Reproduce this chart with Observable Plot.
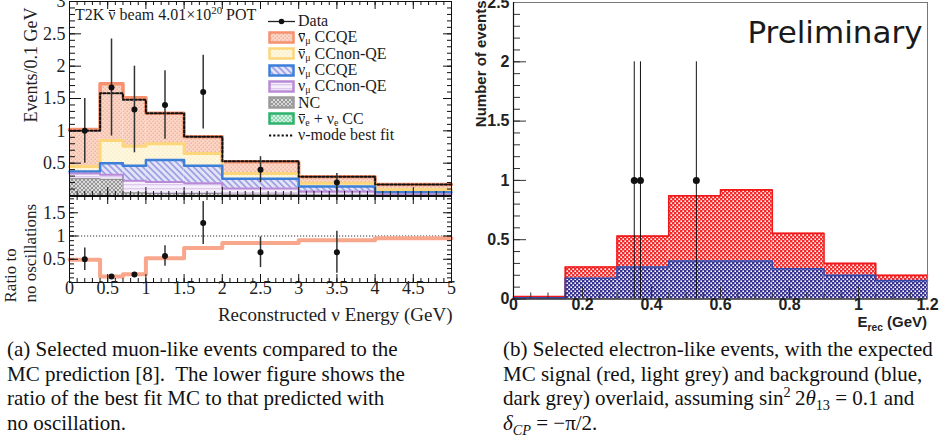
<!DOCTYPE html>
<html><head><meta charset="utf-8">
<script src="https://cdn.jsdelivr.net/npm/d3@7"></script>
<script src="https://cdn.jsdelivr.net/npm/@observablehq/plot@0.6"></script>
<style>
html,body{margin:0;padding:0;background:#fff;}
#wrap{position:relative;width:940px;height:448px;overflow:hidden;background:#fff;}
.serif{font-family:"Liberation Serif","Times New Roman",serif;color:#1b1b1b;}
.cap{position:absolute;font-family:"Liberation Serif","Times New Roman",serif;font-size:21px;line-height:24.6px;color:#111;white-space:nowrap;}
sup,sub{font-size:0.68em;line-height:0;}
.lg{position:absolute;left:268px;top:13px;font-size:16px;}
.lg sub{font-size:0.62em;vertical-align:-0.2em;}
.row{height:16.3px;display:flex;align-items:center;white-space:nowrap;line-height:16px;}
.row svg{flex:none;margin-right:3px;}
.ob{position:relative;display:inline-block;line-height:1;}
.ob::after{content:"";position:absolute;left:0.06em;right:0.04em;top:0.2em;border-top:1px solid currentColor;}
#erec{position:absolute;right:13px;top:313px;font-family:"Liberation Sans",Arial,sans-serif;font-weight:bold;font-size:15px;color:#222;white-space:nowrap;}
</style></head>
<body>
<svg width="0" height="0" style="position:absolute">
<defs>
 <pattern id="pRed" width="4" height="4" patternUnits="userSpaceOnUse"><rect width="4" height="4" fill="#fbd5c6"/><rect x="0.5" y="0.5" width="1.5" height="1.5" fill="#f6b59e"/><rect x="2.5" y="2.5" width="1.5" height="1.5" fill="#f6b59e"/></pattern>
 <pattern id="pYel" width="4" height="4" patternUnits="userSpaceOnUse"><rect width="4" height="4" fill="#fff8e0"/><rect x="0.5" y="0.5" width="1.5" height="1.5" fill="#fdecbc"/><rect x="2.5" y="2.5" width="1.5" height="1.5" fill="#fdecbc"/></pattern>
 <pattern id="pBlue" width="4.5" height="4.5" patternUnits="userSpaceOnUse" patternTransform="rotate(-45)"><rect width="4.5" height="4.5" fill="#e4e4f9"/><rect width="1.8" height="4.5" fill="#a0a2e3"/></pattern>
 <pattern id="pPurp" width="4" height="4" patternUnits="userSpaceOnUse"><rect width="4" height="4" fill="#f5eefb"/><rect width="4" height="1.3" fill="#dfc9ef"/></pattern>
 <pattern id="pNC" width="4" height="4" patternUnits="userSpaceOnUse"><rect width="4" height="4" fill="#dadada"/><path d="M0,0L4,4M4,0L0,4" stroke="#8f8f8f" stroke-width="0.9"/></pattern>
 <pattern id="pNue" width="4" height="4" patternUnits="userSpaceOnUse"><rect width="4" height="4" fill="#d6f1e6"/><path d="M0,0L4,4M4,0L0,4" stroke="#86d2aa" stroke-width="0.9"/></pattern>
 <pattern id="pSig" width="4" height="4" patternUnits="userSpaceOnUse"><rect width="4" height="4" fill="#f22a2a"/><rect x="0.4" y="0.4" width="1.6" height="1.6" fill="#fff"/><rect x="2.4" y="2.4" width="1.6" height="1.6" fill="#fff"/></pattern>
 <pattern id="pBkg" width="4" height="4" patternUnits="userSpaceOnUse"><rect width="4" height="4" fill="#373290"/><rect x="0.4" y="0.4" width="1.6" height="1.6" fill="#fff"/><rect x="2.4" y="2.4" width="1.6" height="1.6" fill="#fff"/></pattern>
</defs></svg>
<div id="wrap">
 <div class="serif" style="position:absolute;left:75px;top:6px;font-size:16px;white-space:nowrap;">T2K <span class="ob">ν</span> beam 4.01×10<sup>20</sup> POT</div>
 <div class="lg serif">
  <div class="row"><svg width="27" height="13"><line x1="0" y1="6.5" x2="27" y2="6.5" stroke="#222" stroke-width="1.3"/><circle cx="13.5" cy="6.5" r="2.8" fill="#111"/></svg><span>Data</span></div>
  <div class="row"><svg width="27" height="13"><rect x="1.5" y="1.5" width="24" height="10" fill="url(#pRed)" stroke="#f5916f" stroke-width="2.5"/></svg><span><span class="ob">ν</span><sub>μ</sub> CCQE</span></div>
  <div class="row"><svg width="27" height="13"><rect x="1.5" y="1.5" width="24" height="10" fill="url(#pYel)" stroke="#fdd67c" stroke-width="2.5"/></svg><span><span class="ob">ν</span><sub>μ</sub> CCnon-QE</span></div>
  <div class="row"><svg width="27" height="13"><rect x="1.5" y="1.5" width="24" height="10" fill="url(#pBlue)" stroke="#3b7fd9" stroke-width="2.5"/></svg><span>ν<sub>μ</sub> CCQE</span></div>
  <div class="row"><svg width="27" height="13"><rect x="1.5" y="1.5" width="24" height="10" fill="url(#pPurp)" stroke="#b88ad8" stroke-width="2.5"/></svg><span>ν<sub>μ</sub> CCnon-QE</span></div>
  <div class="row"><svg width="27" height="13"><rect x="1.5" y="1.5" width="24" height="10" fill="url(#pNC)" stroke="#9a9a9a" stroke-width="2.5"/></svg><span>NC</span></div>
  <div class="row"><svg width="27" height="13"><rect x="1.5" y="1.5" width="24" height="10" fill="url(#pNue)" stroke="#2db36b" stroke-width="2.5"/></svg><span><span class="ob">ν</span><sub>e</sub> + ν<sub>e</sub> CC</span></div>
  <div class="row"><svg width="27" height="13"><line x1="1" y1="6.5" x2="26" y2="6.5" stroke="#111" stroke-width="2" stroke-dasharray="2.2,2"/></svg><span>ν-mode best fit</span></div>
 </div>
 <div id="erec">E<sub>rec</sub> (GeV)</div>
 <div class="cap" style="left:7px;top:337px;">(a) Selected muon-like events compared to the<br>MC prediction [8].&nbsp; The lower figure shows the<br>ratio of the best fit MC to that predicted with<br>no oscillation.</div>
 <div class="cap" style="left:503px;top:337px;">(b) Selected electron-like events, with the expected<br>MC signal (red, light grey) and background (blue,<br>dark grey) overlaid, assuming sin<sup>2</sup>&#8201;2<i>θ</i><sub>13</sub> = 0.1 and<br><i>δ<sub>CP</sub></i> = −π/2.</div>
</div>
<script>
// ---------- data: muon-like (left) ----------
const muEdges = [0, 0.4, 0.7, 1.0, 1.5, 2.0, 3.0, 4.0, 5.0];
const ncTop         = [0.26, 0.25, 0.04, 0.03, 0.03, 0.02, 0.01, 0.005];
const nueTop        = [0.26, 0.25, 0.04, 0.03, 0.03, 0.02, 0.01, 0.005];
const numuNonQETop  = [0.34, 0.32, 0.23, 0.21, 0.19, 0.11, 0.06, 0.02];
const numuQETop     = [0.37, 0.50, 0.46, 0.55, 0.46, 0.26, 0.14, 0.05];
const anumuNonQETop = [0.45, 0.85, 0.76, 0.80, 0.65, 0.34, 0.19, 0.09];
const anumuQETop    = [1.02, 1.73, 1.51, 1.27, 0.91, 0.52, 0.29, 0.17];
const bestFit       = [1.00, 1.58, 1.48, 1.27, 0.91, 0.53, 0.29, 0.17];
const muDataE   = [0.2, 0.55, 0.85, 1.25, 1.75, 2.5, 3.5];
const muDataY   = [1.0, 1.67, 1.33, 1.4, 1.6, 0.4, 0.2];
const muDataErr = [0.5, 0.75, 0.67, 0.53, 0.57, 0.2, 0.14];
const ratioMC   = [0.49, 0.13, 0.18, 0.52, 0.74, 0.85, 0.91, 0.95];
const ratioY    = [0.5, 0.13, 0.17, 0.57, 1.28, 0.65, 0.65];
const ratioErr  = [0.24, 0, 0, 0.22, 0.46, 0.33, 0.45];
const muTicksY    = [0.5, 1, 1.5, 2, 2.5, 3];
const ratioTicksY = [0.5, 1, 1.5];
const muTicksX    = [0, 0.5, 1, 1.5, 2, 2.5, 3, 3.5, 4, 4.5, 5];
// ---------- data: electron-like (right) ----------
const eEdges   = [0, 0.15, 0.3, 0.45, 0.6, 0.75, 0.9, 1.05, 1.2];
const eTotal   = [0.02, 0.27, 0.53, 0.87, 0.92, 0.555, 0.30, 0.20];
const eBkg     = [0.01, 0.175, 0.27, 0.32, 0.32, 0.255, 0.20, 0.155];
const eDataE   = [0.35, 0.368, 0.53];
const eDataY   = [1, 1, 1];
const eDataErr = [1, 1, 1];
const eTicksY  = [0, 0.5, 1, 1.5, 2, 2.5];
const eTicksX  = [0, 0.2, 0.4, 0.6, 0.8, 1, 1.2];

// ---------- helpers ----------
const binRects = (edges, lo, hi) => hi.map((h, i) => ({x1: edges[i], x2: edges[i + 1], y1: lo ? lo[i] : 0, y2: h}));
const stepPts = (edges, vals) => edges.map((e, i) => ({x: e, y: vals[Math.min(i, vals.length - 1)]}));
const pts = (xs, ys, es) => xs.map((x, i) => ({x, y: ys[i], lo: ys[i] - es[i], hi: ys[i] + es[i]}));
const grid = (a, b, s) => d3.range(Math.round((b - a) / s) + 1).map(i => +(a + i * s).toFixed(4));
const yT = (vals, len, fw, side, o = {}) => Plot.tickY(vals, {y: d => d, stroke: "#111", strokeWidth: 1, ...(side === "left" ? {insetRight: fw - len} : {insetLeft: fw - len}), ...o});
const xT = (vals, len, fh, side, o = {}) => Plot.tickX(vals, {x: d => d, stroke: "#111", strokeWidth: 1, ...(side === "bottom" ? {insetTop: fh - len} : {insetBottom: fh - len}), ...o});
const serif = '"Liberation Serif","Times New Roman",serif';
const sans = '"Liberation Sans",Arial,sans-serif';
const wrap = document.getElementById("wrap");
function place(el, left, top) {
  el.style.position = "absolute"; el.style.left = left + "px"; el.style.top = top + "px";
  wrap.insertBefore(el, wrap.firstChild);
}

// ---------- left upper ----------
const fwL = 460 - 69 - 9, fhU = 197 - 1 - 2;
const layerDefs = [
  [ncTop, null, "url(#pNC)", "#8a8a8a", 1],
  [nueTop, ncTop, "url(#pNue)", "#2db36b", 0],
  [numuNonQETop, nueTop, "url(#pPurp)", "#b88ad8", 2],
  [numuQETop, numuNonQETop, "url(#pBlue)", "#3b7fd9", 2.5],
  [anumuNonQETop, numuQETop, "url(#pYel)", "#fdd67c", 3],
  [anumuQETop, anumuNonQETop, "url(#pRed)", "#f5916f", 3.5]
];
const muPts = pts(muDataE, muDataY, muDataErr);
const LU = Plot.plot({
  width: 460, height: 197, marginLeft: 69, marginRight: 9, marginTop: 1, marginBottom: 2,
  x: {domain: [0, 5], axis: null}, y: {domain: [0, 3], axis: null},
  style: {background: "transparent", overflow: "visible", fontFamily: serif},
  marks: [
    ...layerDefs.map(([hi, lo, fill]) => Plot.rect(binRects(muEdges, lo, hi), {x1: "x1", x2: "x2", y1: "y1", y2: "y2", fill})),
    ...layerDefs.slice().reverse().filter(l => l[4] > 0).map(([hi, lo, fill, stroke, sw]) =>
      Plot.line(stepPts(muEdges, hi), {x: "x", y: "y", curve: "step-after", stroke, strokeWidth: sw})),
    Plot.line(stepPts(muEdges, bestFit), {x: "x", y: "y", curve: "step-after", stroke: "#111", strokeWidth: 2, strokeDasharray: "2.2,2"}),
    Plot.ruleX(muPts, {x: "x", y1: "lo", y2: "hi", stroke: "#333", strokeWidth: 1.5}),
    Plot.dot(muPts, {x: "x", y: "y", r: 3, fill: "#111"}),
    yT(grid(0, 3, 0.1), 6, fwL, "left"), yT(grid(0, 3, 0.5), 12, fwL, "left"),
    yT(grid(0, 3, 0.1), 4, fwL, "right"), yT(grid(0, 3, 0.5), 8, fwL, "right"),
    xT(grid(0, 5, 0.1), 4, fhU, "bottom"), xT(grid(0, 5, 0.5), 8, fhU, "bottom"),
    xT(grid(0, 5, 0.1), 4, fhU, "top"), xT(grid(0, 5, 0.5), 8, fhU, "top"),
    Plot.frame({stroke: "#111"}),
    Plot.text(muTicksY, {y: d => d, text: d => String(d), frameAnchor: "left", dx: -4, textAnchor: "end", fontSize: 18, fill: "#222"}),
    Plot.text(["Events/0.1 GeV"], {text: d => d, frameAnchor: "top-left", rotate: -90, textAnchor: "end", dx: -45, dy: 6, fontSize: 18, fill: "#222"})
  ]
});
place(LU, 0, 0);

// ---------- left lower (ratio) ----------
const fhL = 140 - 0 - 54;
const rPts = pts(muDataE, ratioY, ratioErr);
const LL = Plot.plot({
  width: 460, height: 140, marginLeft: 69, marginRight: 9, marginTop: 0, marginBottom: 54,
  x: {domain: [0, 5], axis: null}, y: {domain: [0, 1.85], axis: null},
  style: {background: "transparent", overflow: "visible", fontFamily: serif},
  marks: [
    Plot.ruleY([1], {stroke: "#333", strokeWidth: 1, strokeDasharray: "1.2,1.8"}),
    Plot.line(stepPts(muEdges, ratioMC), {x: "x", y: "y", curve: "step-after", stroke: "#f8a78c", strokeWidth: 4}),
    Plot.ruleX(rPts, {x: "x", y1: "lo", y2: "hi", stroke: "#333", strokeWidth: 1.5}),
    Plot.dot(rPts, {x: "x", y: "y", r: 3, fill: "#111"}),
    yT(grid(0, 1.8, 0.1), 5, fwL, "left"), yT(grid(0, 1.5, 0.5), 9, fwL, "left"),
    yT(grid(0, 1.8, 0.1), 4, fwL, "right"), yT(grid(0, 1.5, 0.5), 8, fwL, "right"),
    xT(grid(0, 5, 0.1), 4, fhL, "bottom"), xT(grid(0, 5, 0.5), 8, fhL, "bottom"),
    xT(grid(0, 5, 0.1), 4, fhL, "top"), xT(grid(0, 5, 0.5), 8, fhL, "top"),
    Plot.frame({stroke: "#111"}),
    Plot.text(ratioTicksY, {y: d => d, text: d => String(d), frameAnchor: "left", dx: -4, textAnchor: "end", fontSize: 18, fill: "#222"}),
    Plot.text(muTicksX, {x: d => d, text: d => String(d), frameAnchor: "bottom", dy: 11, fontSize: 18, fill: "#222"}),
    Plot.text(["Reconstructed ν Energy (GeV)"], {text: d => d, frameAnchor: "bottom-right", textAnchor: "end", dx: 1, dy: 38, fontSize: 19, fill: "#222"}),
    Plot.text(["Ratio to"], {text: d => d, frameAnchor: "bottom-left", rotate: -90, textAnchor: "start", dx: -54, dy: 20, fontSize: 17, fill: "#222"}),
    Plot.text(["no oscillations"], {text: d => d, frameAnchor: "bottom-left", rotate: -90, textAnchor: "start", dx: -34, dy: 20, fontSize: 17, fill: "#222"})
  ]
});
place(LL, 0, 196);

// ---------- right (electron-like) ----------
const fwR = 480 - 53 - 13, fhR = 335 - 2 - 36.5;
const ePts = pts(eDataE, eDataY, eDataErr);
const R = Plot.plot({
  width: 480, height: 335, marginLeft: 53, marginRight: 13, marginTop: 2, marginBottom: 36.5,
  x: {domain: [0, 1.2], axis: null}, y: {domain: [0, 2.5], axis: null},
  style: {background: "transparent", overflow: "visible", fontFamily: sans},
  marks: [
    Plot.rect(binRects(eEdges, eBkg, eTotal), {x1: "x1", x2: "x2", y1: "y1", y2: "y2", fill: "url(#pSig)"}),
    Plot.rect(binRects(eEdges, null, eBkg), {x1: "x1", x2: "x2", y1: "y1", y2: "y2", fill: "url(#pBkg)"}),
    Plot.line(stepPts(eEdges, eTotal), {x: "x", y: "y", curve: "step-after", stroke: "#f01818", strokeWidth: 1.6}),
    Plot.line(stepPts(eEdges, eBkg), {x: "x", y: "y", curve: "step-after", stroke: "#3548a8", strokeWidth: 1.6}),
    Plot.ruleX(ePts, {x: "x", y1: "lo", y2: "hi", stroke: "#111", strokeWidth: 1}),
    Plot.dot(ePts, {x: "x", y: "y", r: 3.5, fill: "#111"}),
    yT(grid(0, 2.5, 0.1), 7, fwR, "left", {stroke: "#333"}), yT(grid(0, 2.5, 0.5), 13, fwR, "left", {stroke: "#333"}),
    xT(grid(0, 1.2, 0.05), 6, fhR, "bottom", {stroke: "#333"}), xT(grid(0, 1.2, 0.2), 12, fhR, "bottom", {stroke: "#333"}),
    Plot.frame({stroke: "#777"}),
    Plot.ruleX([0], {stroke: "#111", strokeWidth: 1.2}),
    Plot.ruleY([0], {stroke: "#111", strokeWidth: 1.2}),
    Plot.text(eTicksY, {y: d => d, text: d => String(d), frameAnchor: "left", dx: -4, textAnchor: "end", fontSize: 16, fontWeight: "bold", fill: "#222"}),
    Plot.text(eTicksX, {x: d => d, text: d => String(d), frameAnchor: "bottom", dy: 11, fontSize: 16, fontWeight: "bold", fill: "#222"}),
    Plot.text(["Preliminary"], {text: d => d, frameAnchor: "top-right", textAnchor: "end", dx: -5, dy: 18, fontSize: 31, fontFamily: "DejaVu Sans", fill: "#1a1a1a"}),
    Plot.text(["Number of events"], {text: d => d, frameAnchor: "top-left", rotate: -90, textAnchor: "end", dx: -38, dy: -2, fontSize: 15, fontWeight: "bold", fill: "#222"})
  ]
});
place(R, 460, 0);
</script>
</body></html>
